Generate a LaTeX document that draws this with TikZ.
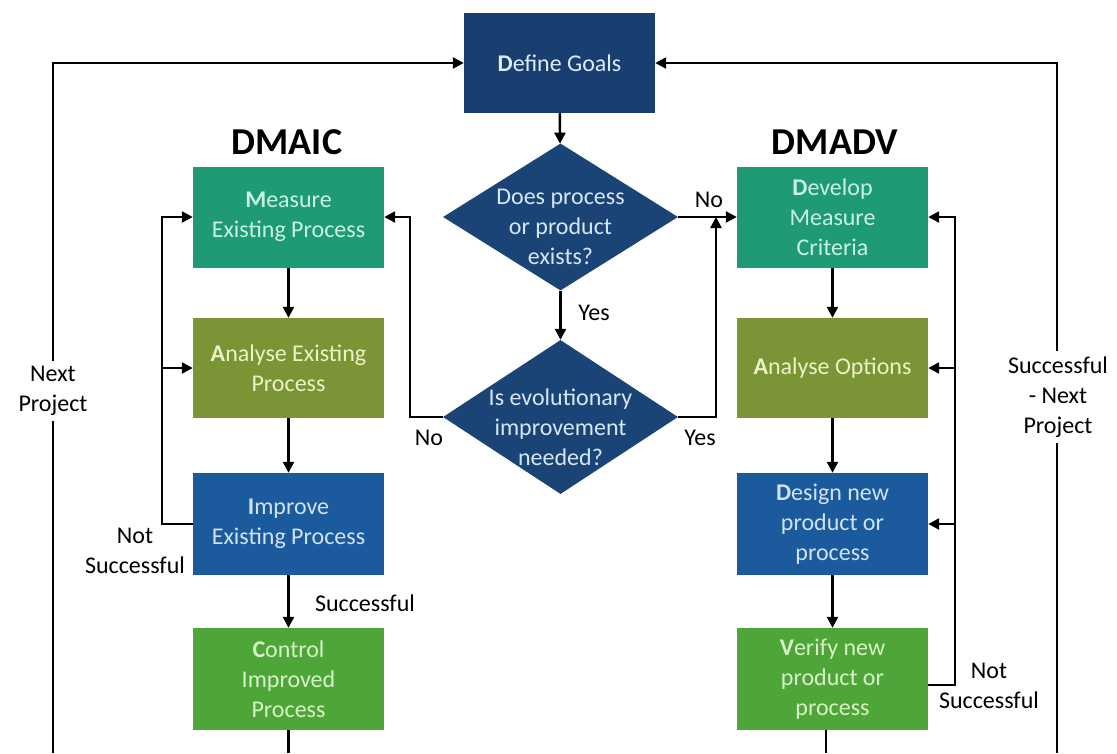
\documentclass[tikz,border=0pt]{standalone}
\usepackage{fontspec}
\setmainfont{Carlito}
\usetikzlibrary{shapes.geometric,arrows.meta,calc}

% fills
\definecolor{cDefine}{RGB}{25,62,112}
\definecolor{cDia}{RGB}{27,68,118}
\definecolor{cMeasure}{RGB}{30,154,116}
\definecolor{cAnalyse}{RGB}{122,148,54}
\definecolor{cImprove}{RGB}{28,90,158}
\definecolor{cControl}{RGB}{78,166,57}
% text on the fills
\definecolor{tDefine}{RGB}{222,234,246}
\definecolor{tDia}{RGB}{214,230,244}
\definecolor{tMeasure}{RGB}{200,242,226}
\definecolor{tAnalyse}{RGB}{238,242,196}
\definecolor{tImprove}{RGB}{207,227,243}
\definecolor{tControl}{RGB}{216,242,200}

\newcommand\initial[1]{{\bfseries #1}}

\tikzset{
  base/.style={font=\fontsize{24}{30}\selectfont},
  box/.style={base, rectangle, minimum width=191pt, minimum height=101pt,
              align=center, inner sep=0pt},
  definebox/.style={box, fill=cDefine, text=tDefine, minimum height=100pt},
  measurebox/.style={box, fill=cMeasure, text=tMeasure},
  analysebox/.style={box, fill=cAnalyse, text=tAnalyse, minimum height=100pt},
  improvebox/.style={box, fill=cImprove, text=tImprove, minimum height=102pt},
  controlbox/.style={box, fill=cControl, text=tControl, minimum height=102pt},
  decision/.style={diamond, fill=cDia, minimum width=235pt, inner sep=0pt},
  decisiontext/.style={base, text=tDia, align=center, inner sep=0pt},
  lbl/.style={base, align=center, inner sep=5pt},
  heading/.style={font=\fontsize{38}{40}\selectfont\bfseries},
  plain/.style={draw=black, line width=2.4pt},
  link/.style={plain, -{Triangle[length=11pt,width=11pt]}}
}

\begin{document}
\begin{tikzpicture}[x=1pt,y=-1pt]
\useasboundingbox (0,0) rectangle (1117,753);
\fill[white] (0,0) rectangle (1117,753);

% top
\node[definebox] (goals) at (559.5,63) {\initial{D}efine Goals};

% decisions
\node[decision, minimum height=147pt] (d1) at (560.5,217) {};
\node[decisiontext] (d1t) at ([yshift=-10pt]d1.center) {Does process\\or product\\exists?};
\node[decision, minimum height=154pt] (d2) at (560.5,417) {};
\node[decisiontext] (d2t) at ([yshift=-10pt]d2.center) {Is evolutionary\\improvement\\needed?};

% headings
\node[heading] (dmaic) at (287,142) {DMAIC};
\node[heading] (dmadv) at (835,142) {DMADV};

% DMAIC column
\node[measurebox] (measure) at (288.5,217) {\initial{M}easure\\Existing Process};
\node[analysebox] (analyseE) at (288.5,368) {\initial{A}nalyse Existing\\Process};
\node[improvebox] (improve) at (288.5,524) {\initial{I}mprove\\Existing Process};
\node[controlbox] (control) at (288.5,679) {\initial{C}ontrol\\Improved\\Process};

% DMADV column
\node[measurebox] (develop) at (832.5,217) {\initial{D}evelop\\Measure\\Criteria};
\node[analysebox] (analyseO) at (832.5,368) {\initial{A}nalyse Options};
\node[improvebox] (design) at (832.5,524) {\initial{D}esign new\\product or\\process};
\node[controlbox] (verify) at (832.5,679) {\initial{V}erify new\\product or\\process};

% labels
\node[lbl] (lNo1) at (709,200) {No};
\node[lbl] (lYes1) at (594,313) {Yes};
\node[lbl] (lNo2) at (429,438) {No};
\node[lbl] (lYes2) at (700,438) {Yes};
\node[lbl] (next) at (53,391) {Next\\Project};
\node[lbl] (nextR) at (1058,397) {Successful\\- Next\\Project};
\node[lbl] (notL) at (135,551) {Not\\Successful};
\node[lbl] (succ) at (365,603) {Successful};
\node[lbl] (notR) at (989,686) {Not\\Successful};

% helper positions
\coordinate (lx) at (162,0);
\coordinate (nx) at (410,0);
\coordinate (yx) at (716,0);
\coordinate (rx) at (955,0);
\coordinate (lbot) at (53,753);
\coordinate (rbot) at (1057,753);
\coordinate (cbot) at (288.5,753);
\coordinate (vbot) at (826,753);

% main flow
\draw[link] (goals) -- (d1);
\draw[link] (d1) -- (d2);
\draw[link] (d1.east) -- (develop.west);
\draw[link] (d2.east) -| (yx |- d1.east);
\draw[link] (d2.west) -| (nx |- measure.east) -- (measure.east);

\draw[link] (measure) -- (analyseE);
\draw[link] (analyseE) -- (improve);
\draw[link] (improve) -- (control);
\draw[link] (improve.west) -| (lx |- measure.west) -- (measure.west);
\draw[link] (lx |- analyseE.west) -- (analyseE.west);
\draw[plain] (control.south) -- (cbot);

\draw[link] (develop) -- (analyseO);
\draw[link] (analyseO) -- (design);
\draw[link] (design) -- (verify);
\draw[link] ([yshift=-6pt]verify.east) -| (rx |- develop.east) -- (develop.east);
\draw[link] (rx |- analyseO.east) -- (analyseO.east);
\draw[link] (rx |- design.east) -- (design.east);
\draw[plain] (verify.south -| vbot) -- (vbot);

% outer loops back to the goals
\draw[plain] (lbot) -- (next.south);
\draw[link] (next.north) |- (goals.west);
\draw[plain] (rbot) -- (nextR.south -| rbot);
\draw[link] (nextR.north -| rbot) |- (goals.east);
\end{tikzpicture}
\end{document}
